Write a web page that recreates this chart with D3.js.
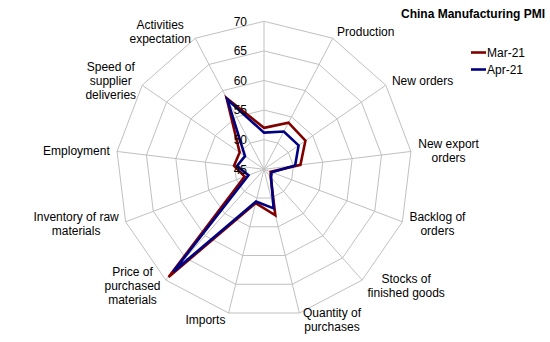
<!DOCTYPE html>
<html><head><meta charset="utf-8">
<script src="https://cdn.jsdelivr.net/npm/d3@7"></script>
<style>
html,body{margin:0;padding:0;background:#fff;}
svg{display:block;font-family:"Liberation Sans",Arial,sans-serif;}
</style></head>
<body>
<svg id="chart" width="550" height="342"></svg>
<script>
const categories = [
  "", "Production", "New orders", "New export orders", "Backlog of orders",
  "Stocks of finished goods", "Quantity of purchases", "Imports",
  "Price of purchased materials", "Inventory of raw materials", "Employment",
  "Speed of supplier deliveries", "Activities expectation"
];
const labelLines = [
  [], ["Production"], ["New orders"], ["New export", "orders"], ["Backlog of", "orders"],
  ["Stocks of", "finished goods"], ["Quantity of", "purchases"], ["Imports"],
  ["Price of", "purchased", "materials"], ["Inventory of raw", "materials"], ["Employment"],
  ["Speed of", "supplier", "deliveries"], ["Activities", "expectation"]
];
const seriesNames = ["Mar-21", "Apr-21"];
const mar21 = [52.0, 53.9, 53.5, 51.2, 46.2, 46.7, 53.0, 50.9, 69.3, 48.5, 50.1, 50.0, 58.6];
const apr21 = [51.2, 52.2, 52.1, 50.3, 46.4, 46.8, 51.8, 50.6, 68.1, 47.8, 49.6, 48.9, 58.3];
const tickValues = [45, 50, 55, 60, 65, 70];
const title = "China Manufacturing PMI";

const colors = ["#800000", "#000080"];
const cx = 264, cy = 169.3, R = 148;
const svg = d3.select("#chart");
const r = d3.scaleLinear().domain([45, 70]).range([0, R]);
const n = categories.length;
const ang = d3.scaleLinear().domain([0, n]).range([0, 2 * Math.PI]);
const pt = (i, v) => [cx + r(v) * Math.sin(ang(i)), cy - r(v) * Math.cos(ang(i))];

const grid = svg.append("g").attr("stroke", "#c0c0c0").attr("fill", "none").attr("stroke-width", 1);
tickValues.filter(t => t > 45).forEach(t => {
  grid.append("polygon").attr("points", d3.range(n).map(i => pt(i, t).join(",")).join(" "));
});
d3.range(n).forEach(i => {
  const p = pt(i, 70);
  grid.append("line").attr("x1", cx).attr("y1", cy).attr("x2", p[0]).attr("y2", p[1]);
});

const line = d3.line();
[mar21, apr21].forEach((s, k) => {
  svg.append("path")
    .attr("d", line(s.map((v, i) => pt(i, v))) + "Z")
    .attr("fill", "none").attr("stroke", colors[k]).attr("stroke-width", 2.6)
    .attr("stroke-linejoin", "miter");
});

// tick labels
svg.append("g").selectAll("text").data(tickValues).join("text")
  .attr("x", cx - 17).attr("y", d => cy - r(d)).attr("dy", "0.35em")
  .attr("text-anchor", "end").attr("font-size", 12).attr("fill", "#000")
  .text(d => d);

// category labels
const lh = 14;
labelLines.forEach((lines, i) => {
  if (!lines.length) return;
  const a = ang(i), s = Math.sin(a), c = Math.cos(a);
  const p = pt(i, 70);
  const g = svg.append("g");
  const t = g.append("text").attr("font-size", 12).attr("fill", "#000").attr("text-anchor", "middle");
  lines.forEach((l, j) => t.append("tspan").attr("x", 0).attr("y", (j - (lines.length - 1) / 2) * lh).attr("dy", "0.35em").text(l));
  const w = t.node().getBBox().width;
  const gap = 2 + 5 * Math.abs(s);
  const dx = Math.abs(s) < 0.05 ? 0 : Math.sign(s) * (w / 2 + gap);
  const ox = p[0] + dx, oy = p[1] - c * 7;
  g.attr("transform", `translate(${ox},${oy})`);
});

// title
svg.append("text").attr("x", 545).attr("y", 18).attr("text-anchor", "end")
  .attr("font-size", 12).attr("font-weight", "bold").text(title);

// legend
const leg = svg.append("g");
seriesNames.forEach((nm, k) => {
  const y = 52.5 + k * 17;
  leg.append("line").attr("x1", 471).attr("x2", 486).attr("y1", y).attr("y2", y)
    .attr("stroke", colors[k]).attr("stroke-width", 2.6);
  leg.append("text").attr("x", 487).attr("y", y).attr("dy", "0.35em")
    .attr("font-size", 12).text(nm);
});
</script>
</body></html>
